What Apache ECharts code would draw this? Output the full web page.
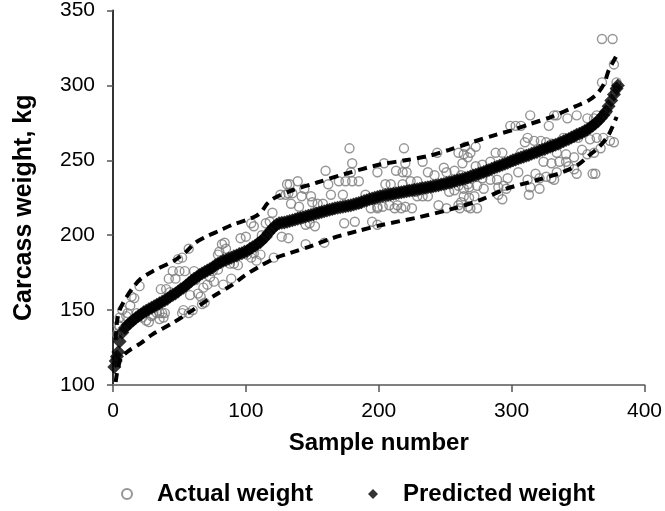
<!DOCTYPE html>
<html><head><meta charset="utf-8">
<script src="https://cdn.jsdelivr.net/npm/echarts@6/dist/echarts.min.js"></script>
<style>html,body{margin:0;padding:0;background:#fff}#c{width:665px;height:511px}</style>
</head><body><div id="c"></div>
<script>
const xTicks = [0, 100, 200, 300, 400];
const yTicks = [100, 150, 200, 250, 300, 350];
const seriesNames = ['Actual weight', 'Predicted weight'];

// [sample number, carcass weight kg]
const actual = [
[2,118],[3,134],[4,140],[5,139],[5,145],[7,150],[10,146],[11,148],[13,153],[14,159],[16,158],[20,166],[18,148],[22,145],[25,143],[27,142],[24,148],[29,146],[30,147],[33,148],[35,148],[35,144],[37,148],[39,148],[36,164],[40,164],[43,162],[38,145],[42,171],[47,171],[45,176],[49,184],[52,185],[50,176],[53,150],[52,148],[54,176],[57,191],[57,148],[58,160],[60,150],[61,176],[62,170],[67,154],
[75,176],[79,177],[73,172],[76,169],[71,167],[68,165],[64,161],[66,159],[69,155],[84,195],[82,194],[80,189],[85,191],[79,187],[88,181],[91,181],[94,180],[83,167],[89,171],[96,198],[100,199],[104,208],[106,206],[115,208],[106,188],[111,187],[104,185],[108,183],[101,187],[121,185],[127,199],[120,215],[126,227],[130,227],[131,234],
[178,258],[180,248],[160,243],[179,242],[133,234],[139,236],[162,234],[170,236],[175,236],[180,236],[185,236],[144,231],[132,228],[135,228],[142,226],[149,226],[164,227],[173,227],[190,227],[197,224],[134,221],[140,219],[150,222],[154,221],[158,221],[194,218],[199,218],[148,208],[152,206],[145,207],[174,208],[182,209],[195,209],[132,198],[145,194],[159,195],
[219,258],[244,255],[260,255],[264,254],[204,248],[199,242],[220,248],[233,249],[213,243],[218,242],[221,242],[237,242],[242,240],[249,245],[251,242],[257,243],[263,248],[262,240],[205,234],[209,234],[218,234],[224,236],[229,236],[247,234],[254,236],[260,233],[264,231],[267,234],[229,226],[233,226],[237,226],[228,229],[253,229],[257,230],[264,226],[262,222],[199,219],[203,219],[208,220],[214,220],[220,219],[225,218],[217,218],[212,218],[245,220],[251,218],[261,218],[260,220],[199,207],
[314,280],[332,280],[299,273],[303,273],[307,273],[328,273],[265,259],[273,259],[269,255],[267,252],[312,265],[317,263],[322,263],[326,262],[330,261],[310,262],[293,255],[288,255],[284,249],[278,247],[273,246],[307,255],[305,242],[324,249],[330,248],[267,238],[273,239],[278,238],[284,237],[289,237],[297,238],[268,232],[274,233],[279,231],[294,233],[290,232],[296,231],[312,237],[318,241],[321,238],[326,239],[330,238],[334,242],[314,232],[321,231],[313,227],[268,225],[272,226],[269,218],[267,219],[290,227],[293,224],[274,218],
[368,331],[376,331],[377,314],[368,302],[379,302],[334,280],[342,278],[349,280],[357,278],[362,278],[364,280],[369,280],[339,265],[345,265],[350,265],[359,264],[364,265],[369,265],[374,263],[377,262],[334,255],[341,254],[347,252],[353,257],[357,254],[362,255],[367,258],[336,249],[341,249],[343,246],[347,244],[349,241],[363,241],[361,241],[332,237],
[112,200],[118,209],[140,212],[165,217],[185,221],[210,227],[240,232],[280,242],[300,249],[330,259],[355,269],[372,283],[378,296]
];

const predicted = [
[1,112],[2,116],[3,119],[4,122],[5,129],[7,135],[9,138],[11,140],[13,141.5],[15,143],[17,144.5],[19,146],[21,147],[23,148.5],[25,149.5],[27,150.5],[29,151.5],[31,152.5],[33,153.5],[35,154.5],[37,155.5],[39,156.5],[41,157.5],[43,159],[45,160],[47,161],[49,162.5],[51,164],[53,165],[55,166.5],[57,168],[59,169.5],[61,171],[63,172],[65,173.5],[67,174.5],[69,175.5],[71,176.5],[73,177.5],[75,178.5],[77,180],[79,181],[81,182],[83,183],[85,183.5],[87,184.5],[89,185],[91,186],[93,186.5],[95,187.5],[97,188],[99,189],
[101,189.5],[103,191],[105,192],[107,193],[109,194.5],[111,195.5],[113,197.5],[115,199],[117,201.5],[119,203.5],[121,205.5],[123,207],[125,208],[127,208.3],[129,208.5],[131,209],[133,209.5],[135,210],[137,210.5],[139,211],[141,211.5],[143,212],[145,212.5],[147,213],[149,213.5],[151,214],[153,214.5],[155,215],[157,215.5],[159,216],[161,216.5],[163,217],[165,217.5],[167,218],[169,218.3],[171,218.7],[173,219],[175,219.4],[177,219.7],[179,220],[181,220.5],[183,221],[185,221.5],[187,222],[189,222.8],[191,223.3],[193,224],[195,224.5],[197,225],[199,225.5],
[201,226],[203,226.3],[205,226.6],[207,227],[209,227.3],[211,227.6],[213,228],[215,228.3],[217,228.6],[219,229],[221,229.3],[223,229.6],[225,230],[227,230.3],[229,230.6],[231,231],[233,231.3],[235,231.6],[237,232],[239,232.3],[241,232.6],[243,233],[245,233.4],[247,233.8],[249,234.2],[251,234.6],[253,235],[255,235.5],[257,236],[259,236.5],[261,237],[263,237.5],[265,238],[267,238.6],[269,239.2],[271,239.8],[273,240.4],[275,241],[277,241.6],[279,242.2],[281,243],[283,243.6],[285,244.3],[287,245],[289,245.7],[291,246.4],[293,247],[295,247.7],[297,248.4],[299,249.2],
[301,250],[303,250.6],[305,251.2],[307,251.8],[309,252.4],[311,253],[313,253.6],[315,254.3],[317,255],[319,255.6],[321,256.3],[323,257],[325,257.6],[327,258.3],[329,259],[331,259.7],[333,260.4],[335,261],[337,261.8],[339,262.7],[341,263.5],[343,264.3],[345,265.2],[347,266],[349,267],[351,267.8],[353,268.6],[355,269.5],[357,270.6],[359,271.7],[361,273],[363,274.5],[365,276],[367,278],[369,280],[371,282.5],[373,286],[375,290],[377,294],[379,298],[380,300]
];

const upperBand = [
[2,130],[3,142],[5,150],[9,157],[15,165],[21,171],[30,176],[46,183],[55,189],[62,195],[70,199],[80,203],[90,207],[100,210],[108,213],[112,216],[116,221],[120,224],[124,226],[135,230],[153,235],[175,241],[200,247],[220,250],[238,253],[253,257],[270,262],[288,267],[300,270],[313,274],[330,279],[348,286],[358,290],[365,295],[370,302],[373,310],[376,315],[379,320]
];
const lowerBand = [
[2,102],[3,108],[4,112],[6,118],[12,123],[21,128],[30,134],[46,142],[60,150],[75,159],[90,167],[99,173],[110,179],[123,185],[133,188],[150,193],[165,198],[185,203],[203,207],[230,212],[253,217],[275,223],[296,231],[320,237],[338,242],[350,247],[358,253],[366,259],[373,267],[379,279]
];

const FONT = "'Liberation Sans', Arial, sans-serif";
const chart = echarts.init(document.getElementById('c'), null, {renderer: 'canvas'});
const bandStyle = {color: '#000', width: 4, type: [9, 6]};
const legendText = {fontFamily: FONT, fontWeight: 'bold', fontSize: 24, color: '#000', padding: [0, 0, 0, 20]};
chart.setOption({
  animation: false,
  backgroundColor: '#fff',
  grid: {left: 113, right: 19, top: 7, bottom: 126},
  legend: [
    {left: 116, top: 477, itemWidth: 10, itemHeight: 10, data: [seriesNames[0]], textStyle: legendText},
    {left: 363, top: 477, itemWidth: 10, itemHeight: 10, data: [seriesNames[1]], textStyle: legendText}
  ],
  xAxis: {
    type: 'value', min: xTicks[0], max: xTicks[xTicks.length - 1], interval: 100,
    name: 'Sample number', nameLocation: 'middle', nameGap: 46,
    nameTextStyle: {fontFamily: FONT, fontWeight: 'bold', fontSize: 24, color: '#000'},
    axisLine: {show: true, lineStyle: {color: '#808080', width: 2}},
    axisTick: {show: true, length: 7, lineStyle: {color: '#555', width: 1.5}},
    axisLabel: {fontFamily: FONT, fontSize: 21, color: '#000', margin: 16},
    splitLine: {show: false}
  },
  yAxis: {
    type: 'value', min: yTicks[0], max: yTicks[yTicks.length - 1], interval: 50,
    name: 'Carcass weight, kg', nameLocation: 'middle', nameGap: 76, nameRotate: 90,
    nameTextStyle: {fontFamily: FONT, fontWeight: 'bold', fontSize: 25, color: '#000', padding: [0, 20, 0, 0]},
    axisLine: {show: true, lineStyle: {color: '#333', width: 2}},
    axisTick: {show: true, length: 6, lineStyle: {color: '#555', width: 1.5}},
    axisLabel: {fontFamily: FONT, fontSize: 21, color: '#000', margin: 18},
    splitLine: {show: false}
  },
  series: [
    {name: seriesNames[0], type: 'scatter', data: actual, symbol: 'circle', symbolSize: 9, z: 2,
     itemStyle: {color: 'rgba(255,255,255,0)', borderColor: '#7a7a7a', borderWidth: 1.4}},
    {name: 'upper', type: 'line', data: upperBand, showSymbol: false, smooth: 0.3, z: 3, lineStyle: bandStyle},
    {name: 'lower', type: 'line', data: lowerBand, showSymbol: false, smooth: 0.3, z: 3, lineStyle: bandStyle},
    {name: seriesNames[1], type: 'scatter', data: predicted, symbol: 'diamond', symbolSize: 14, z: 4,
     itemStyle: {color: '#000'}}
  ]
});
</script>
</body></html>
